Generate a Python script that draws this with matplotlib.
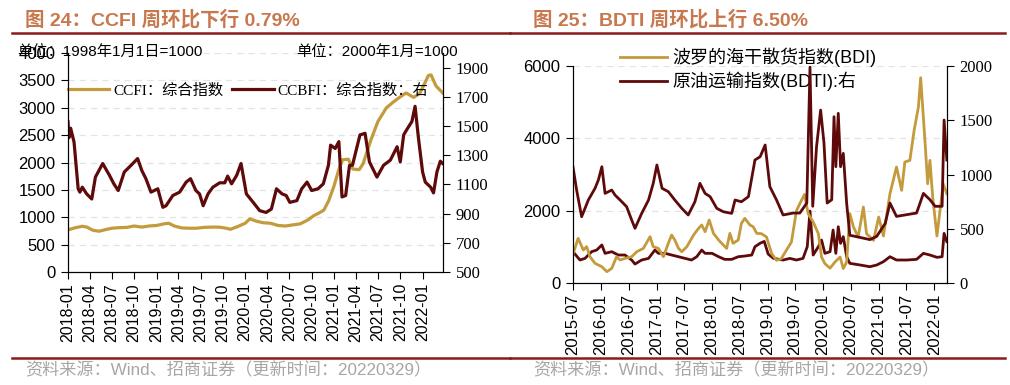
import matplotlib
matplotlib.use("Agg")
import matplotlib.pyplot as plt
import matplotlib.dates as mdates
import pandas as pd
from matplotlib.lines import Line2D

plt.rcParams['font.family'] = ['Liberation Sans', 'Noto Sans CJK SC']
plt.rcParams['axes.unicode_minus'] = False

SANS = ['Liberation Sans', 'Noto Sans CJK SC']
SERIF = ['Liberation Serif', 'Noto Sans CJK SC']
GOLD = '#C39A3C'
DARK = '#5E0A0A'
RULE = '#8B1C1C'
TITLE_C = '#C8784E'

# ---- 图24 data ----
ccfi_dates = ['2018-01-01', '2018-02-01', '2018-03-01', '2018-03-20', '2018-04-15', '2018-05-10',
              '2018-06-01', '2018-07-01', '2018-08-01', '2018-09-01', '2018-10-01', '2018-11-01',
              '2018-12-01', '2019-01-01', '2019-02-01', '2019-02-20', '2019-03-15', '2019-04-15',
              '2019-05-15', '2019-06-15', '2019-07-15', '2019-08-15', '2019-09-15', '2019-10-15',
              '2019-11-01', '2019-12-01', '2020-01-01', '2020-01-20', '2020-02-15', '2020-03-15',
              '2020-04-15', '2020-05-15', '2020-06-15', '2020-07-15', '2020-08-15', '2020-09-15',
              '2020-10-10', '2020-11-01', '2020-11-20', '2020-12-10', '2021-01-01', '2021-01-20',
              '2021-02-05', '2021-03-01', '2021-03-20', '2021-04-15', '2021-05-01', '2021-06-01',
              '2021-07-01', '2021-08-05', '2021-09-01', '2021-10-01', '2021-10-25', '2021-11-25',
              '2021-12-20', '2022-01-10', '2022-01-25', '2022-02-05', '2022-02-25', '2022-03-25']
ccfi_vals = [770, 810, 835, 820, 760, 745,
             770, 800, 810, 815, 840, 820,
             840, 850, 880, 890, 840, 805,
             800, 800, 815, 820, 820, 800,
             780, 830, 890, 970, 930, 900,
             890, 850, 840, 860, 880, 950,
             1030, 1080, 1130, 1300, 1570, 1860,
             2050, 2060, 1880, 1870, 1980, 2400,
             2750, 3000, 3100, 3200, 3270, 3190,
             3260, 3450, 3590, 3600, 3400, 3270]

ccbfi_dates = ['2018-01-01', '2018-01-05', '2018-01-12', '2018-01-26', '2018-02-12', '2018-02-19',
               '2018-03-01', '2018-03-19', '2018-04-09', '2018-04-24', '2018-05-24', '2018-06-21',
               '2018-07-09', '2018-07-27', '2018-08-21', '2018-09-18', '2018-10-15', '2018-11-01',
               '2018-11-18', '2018-12-09', '2019-01-06', '2019-01-27', '2019-02-09', '2019-03-09',
               '2019-04-06', '2019-05-03', '2019-05-21', '2019-06-12', '2019-06-27', '2019-07-12',
               '2019-08-01', '2019-08-21', '2019-09-18', '2019-10-09', '2019-10-21', '2019-11-06',
               '2019-11-27', '2019-12-15', '2020-01-06', '2020-02-03', '2020-03-01', '2020-03-27',
               '2020-04-18', '2020-05-09', '2020-06-01', '2020-06-18', '2020-07-03', '2020-08-01',
               '2020-08-21', '2020-09-12', '2020-10-01', '2020-10-27', '2020-11-18', '2020-12-09',
               '2020-12-18', '2021-01-06', '2021-01-21', '2021-02-03', '2021-02-18', '2021-03-06',
               '2021-03-18', '2021-04-18', '2021-05-09', '2021-05-27', '2021-06-27', '2021-07-24',
               '2021-08-21', '2021-09-18', '2021-10-01', '2021-10-15', '2021-10-27', '2021-11-18',
               '2021-12-01', '2021-12-15', '2022-01-01', '2022-01-12', '2022-02-03', '2022-02-15',
               '2022-03-01', '2022-03-15', '2022-03-25']
ccbfi_vals = [1530, 1420, 1485, 1390, 1070, 1047,
              1081, 1035, 1000, 1150, 1243, 1162,
              1104, 1058, 1185, 1231, 1277, 1196,
              1139, 1047, 1070, 943, 954, 1024,
              1047, 1116, 1139, 1058, 1035, 954,
              1035, 1081, 1111, 1111, 1157, 1104,
              1162, 1243, 1035, 977, 920, 908,
              931, 1070, 1035, 1024, 977, 989,
              1070, 1116, 1058, 1070, 1104, 1231,
              1369, 1346, 1393, 1014, 1024, 1231,
              1231, 1439, 1450, 1254, 1150, 1231,
              1266, 1358, 1254, 1439, 1473, 1531,
              1635, 1416, 1185, 1116, 1081, 1042,
              1185, 1259, 1243]

# ---- 图25 data ----
bdi_dates = ['2015-07-03', '2015-08-04', '2015-09-07', '2015-09-29', '2015-10-21', '2015-11-23',
             '2016-01-07', '2016-02-09', '2016-03-12', '2016-04-13', '2016-05-06', '2016-06-07',
             '2016-07-21', '2016-08-24', '2016-10-06', '2016-11-19', '2016-12-10', '2017-01-13',
             '2017-02-15', '2017-03-19', '2017-04-10', '2017-05-01', '2017-05-25', '2017-06-16',
             '2017-07-19', '2017-09-01', '2017-10-04', '2017-10-25', '2017-11-16', '2017-12-13',
             '2018-01-10', '2018-02-13', '2018-03-16', '2018-04-07', '2018-04-28', '2018-05-19',
             '2018-06-22', '2018-07-13', '2018-08-04', '2018-09-07', '2018-09-28', '2018-10-22',
             '2018-11-22', '2018-12-25', '2019-01-28', '2019-03-01', '2019-04-01', '2019-05-04',
             '2019-06-07', '2019-07-10', '2019-08-01', '2019-09-01', '2019-09-25', '2019-10-28',
             '2019-12-01', '2019-12-22', '2020-01-13', '2020-02-16', '2020-03-19', '2020-04-22',
             '2020-05-13', '2020-06-04', '2020-06-25', '2020-07-19', '2020-08-19', '2020-09-22',
             '2020-10-13', '2020-11-28', '2021-01-01', '2021-02-01', '2021-03-16', '2021-04-28',
             '2021-06-01', '2021-06-22', '2021-07-25', '2021-08-22', '2021-09-19', '2021-10-04',
             '2021-11-01', '2021-11-19', '2021-12-04', '2021-12-22', '2022-01-19', '2022-02-07',
             '2022-03-01', '2022-03-25']
bdi_vals = [821, 1236, 912, 1004, 727, 544,
            451, 313, 405, 727, 636, 681,
            727, 866, 958, 1281, 1004, 958,
            727, 1097, 1327, 1189, 958, 866,
            1004, 1327, 1511, 1604, 1419, 1742,
            1373, 1189, 1051, 958, 1373, 1097,
            1189, 1650, 1788, 1604, 1557, 1373,
            1364, 1272, 811, 627, 673, 903,
            1134, 2000, 2194, 2450, 1917, 1687,
            1364, 719, 535, 410, 580, 719,
            400, 580, 1917, 1548, 1272, 2101,
            1364, 1180, 1825, 1300, 2470, 3207,
            2562, 3346, 3392, 4221, 4866, 5677,
            3945, 2746, 3392, 2378, 1300, 1963,
            2746, 2470]

# BDTI, right axis
bdti_dates = ['2015-07-01', '2015-07-25', '2015-08-27', '2015-10-10', '2015-11-23', '2015-12-15',
              '2016-01-07', '2016-01-28', '2016-03-12', '2016-04-03', '2016-05-06', '2016-06-18',
              '2016-07-21', '2016-08-12', '2016-09-25', '2016-11-09', '2016-12-10', '2017-01-03',
              '2017-02-06', '2017-03-19', '2017-05-01', '2017-06-16', '2017-07-28', '2017-09-10',
              '2017-10-13', '2017-11-16', '2017-12-19', '2018-02-01', '2018-03-16', '2018-05-10',
              '2018-06-01', '2018-07-13', '2018-08-28', '2018-10-10', '2018-11-13', '2018-12-16',
              '2019-01-16', '2019-03-01', '2019-04-13', '2019-06-19', '2019-08-01', '2019-09-16',
              '2019-10-07', '2019-10-25', '2019-11-19', '2019-12-16', '2020-01-07', '2020-01-28',
              '2020-02-27', '2020-03-13', '2020-03-25', '2020-04-10', '2020-04-25', '2020-05-13',
              '2020-06-04', '2020-06-25', '2020-09-01', '2020-11-04', '2020-12-19', '2021-02-13',
              '2021-03-16', '2021-04-28', '2021-07-04', '2021-09-07', '2021-10-22', '2021-12-04',
              '2022-01-07', '2022-02-22', '2022-03-07', '2022-03-25']
bdti_vals = [1072, 857, 611, 765, 873, 949,
             1072, 826, 857, 810, 765, 703,
             581, 504, 642, 765, 919, 1088,
             873, 842, 765, 688, 627, 749,
             919, 826, 796, 688, 657, 642,
             765, 749, 796, 1134, 1164, 1272,
             888, 765, 627, 645, 645, 737,
             1990, 707, 1256, 1594, 1290, 737,
             768, 1533, 1072, 1564, 1072, 1195,
             737, 440, 420, 400, 430, 550,
             737, 614, 630, 645, 826, 768,
             707, 707, 1502, 1134]

# lower dark curve, left axis
low_dates = ['2015-07-01', '2015-08-16', '2015-09-18', '2015-11-01', '2015-12-04', '2016-01-07',
             '2016-01-28', '2016-03-12', '2016-04-24', '2016-06-07', '2016-07-21', '2016-08-12',
             '2016-09-25', '2016-11-09', '2016-12-21', '2017-01-13', '2017-02-27', '2017-04-10',
             '2017-05-25', '2017-07-07', '2017-08-19', '2017-09-22', '2017-10-25', '2017-11-16',
             '2018-01-01', '2018-02-13', '2018-03-25', '2018-05-10', '2018-06-22', '2018-08-04',
             '2018-09-19', '2018-10-10', '2018-11-13', '2018-12-10', '2019-01-05', '2019-02-09',
             '2019-04-13', '2019-05-28', '2019-07-10', '2019-08-22', '2019-09-19', '2019-10-07',
             '2019-10-28', '2019-12-01', '2019-12-22', '2020-01-13', '2020-02-16', '2020-03-07',
             '2020-03-25', '2020-04-10', '2020-04-25', '2020-05-13', '2020-06-04', '2020-06-25',
             '2020-09-01', '2020-11-04', '2020-12-19', '2021-02-01', '2021-03-16', '2021-04-28',
             '2021-07-04', '2021-09-07', '2021-10-22', '2021-12-04', '2022-01-19', '2022-02-22',
             '2022-03-07', '2022-03-25']
low_vals = [866, 636, 681, 866, 912, 1051,
            820, 866, 774, 774, 636, 525,
            636, 681, 912, 820, 820, 774,
            727, 681, 636, 727, 912, 820,
            820, 727, 654, 654, 727, 746,
            774, 1004, 1100, 1150, 800, 681,
            636, 681, 636, 681, 1004, 1990,
            774, 1004, 1189, 820, 866, 1465,
            820, 1557, 1097, 1281, 728, 544,
            498, 451, 498, 590, 727, 636,
            636, 654, 820, 774, 710, 727,
            1373, 1143]

fig = plt.figure(figsize=(10.1, 3.85), dpi=100)


def style_axes(ax, ax2):
    ax.spines['top'].set_visible(False)
    ax2.spines['top'].set_visible(False)
    ax.yaxis.grid(True, color='#E3E3E3', linestyle=(0, (5, 4)), linewidth=0.9)
    ax.set_axisbelow(True)
    ax.tick_params(axis='y', direction='out', length=5, labelsize=12, pad=4)
    ax.tick_params(axis='x', direction='out', length=5, labelsize=11.5, labelrotation=90, pad=3)
    ax2.tick_params(axis='y', direction='out', length=5, labelsize=12, pad=4,
                    labelfontfamily='Liberation Serif')


# ---------------- 图24 ----------------
ax = fig.add_axes([0.0673, 0.2935, 0.3713, 0.5688])
ax2 = ax.twinx()
l1, = ax.plot(pd.to_datetime(ccfi_dates), ccfi_vals, color=GOLD, lw=2.3)
l2, = ax2.plot(pd.to_datetime(ccbfi_dates), ccbfi_vals, color=DARK, lw=2.3)
ax.set_xlim(pd.Timestamp('2018-01-01'), pd.Timestamp('2022-03-26'))
ax.set_ylim(0, 4000)
ax.set_yticks(range(0, 4001, 500))
ax2.set_ylim(500, 2000)
ax2.set_yticks(range(500, 2000, 200))
ax.xaxis.set_major_locator(mdates.MonthLocator(bymonth=[1, 4, 7, 10]))
ax.xaxis.set_major_formatter(mdates.DateFormatter('%Y-%m'))
style_axes(ax, ax2)
ax.legend([l1, l2], ['CCFI：综合指数', 'CCBFI：综合指数：右'], loc='center left',
          bbox_to_anchor=(0.0, 0.83), ncol=2, frameon=False, borderpad=0, borderaxespad=0,
          handlelength=2.7, handletextpad=0.25, columnspacing=0.6,
          prop={'family': SERIF, 'size': 11})
ax.text(-0.135, 1.0, '单位：1998年1月1日=1000', transform=ax.transAxes, fontsize=11,
        va='center', ha='left')
ax.text(1.04, 1.0, '单位：2000年1月=1000', transform=ax.transAxes, fontsize=11,
        va='center', ha='right')

# ---------------- 图25 ----------------
bx = fig.add_axes([0.5673, 0.2649, 0.3703, 0.5636])
bx2 = bx.twinx()
bx.plot(pd.to_datetime(low_dates), low_vals, color=DARK, lw=2.0)
m1, = bx.plot(pd.to_datetime(bdi_dates), bdi_vals, color=GOLD, lw=2.0)
m2, = bx2.plot(pd.to_datetime(bdti_dates), bdti_vals, color=DARK, lw=2.0)
bx.set_xlim(pd.Timestamp('2015-07-01'), pd.Timestamp('2022-03-26'))
bx.set_ylim(0, 6000)
bx.set_yticks(range(0, 6001, 2000))
bx2.set_ylim(0, 2000)
bx2.set_yticks(range(0, 2001, 500))
bx.xaxis.set_major_locator(mdates.MonthLocator(bymonth=[1, 7]))
bx.xaxis.set_major_formatter(mdates.DateFormatter('%Y-%m'))
style_axes(bx, bx2)
bx.tick_params(axis='x', labelsize=12)
bx.legend([m1, m2], ['波罗的海干散货指数(BDI)', '原油运输指数(BDTI):右'], loc='center left',
          bbox_to_anchor=(0.125, 0.985), frameon=False, borderpad=0, borderaxespad=0,
          handlelength=2.6, handletextpad=0.3, labelspacing=0.25,
          prop={'family': SANS, 'size': 13})

# ---------------- titles, rules, sources ----------------
fig.text(0.0248, 0.948, '图 24：CCFI 周环比下行 0.79%', fontsize=14, fontweight='bold',
         color=TITLE_C, va='center', ha='left')
fig.text(0.528, 0.948, '图 25：BDTI 周环比上行 6.50%', fontsize=14, fontweight='bold',
         color=TITLE_C, va='center', ha='left')
for x0, x1 in [(0.012, 0.505), (0.505, 0.995)]:
    fig.add_artist(Line2D([x0, x1], [0.914, 0.914], transform=fig.transFigure, color=RULE, lw=1.8))
    fig.add_artist(Line2D([x0, x1], [0.070, 0.070], transform=fig.transFigure, color=RULE, lw=1.8))
src = '资料来源：Wind、招商证券（更新时间：20220329）'
fig.text(0.0248, 0.039, src, fontsize=12.3, color='#A6A6A6', va='center', ha='left')
fig.text(0.528, 0.039, src, fontsize=12.3, color='#A6A6A6', va='center', ha='left')

fig.savefig('out.png', dpi=100)
